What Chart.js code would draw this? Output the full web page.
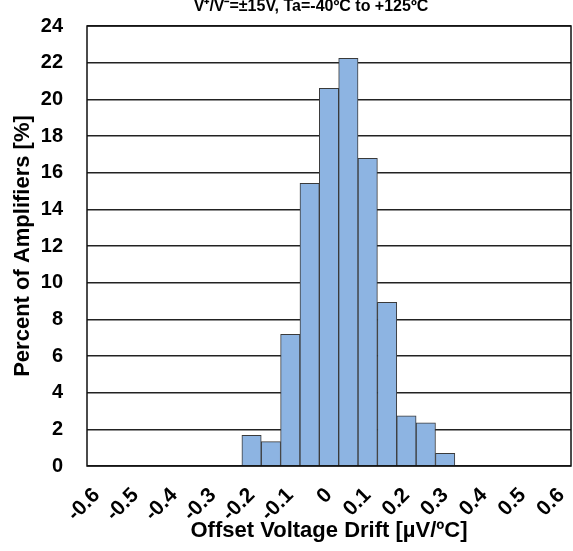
<!DOCTYPE html>
<html>
<head>
<meta charset="utf-8">
<script src="https://cdn.jsdelivr.net/npm/chart.js@4/dist/chart.umd.min.js"></script>
<style>
  html, body { margin: 0; padding: 0; background: #fff; }
  #wrap { width: 573px; height: 551px; position: relative; }
</style>
</head>
<body>
<div id="wrap"><canvas id="driftChart"></canvas></div>
<script>
const titleText = 'V\u207A/V\u207B=\u00B115V, Ta=-40\u00BAC to +125\u00BAC';

// bins of 0.05 uV/C, one category each
const categories = ['-0.6', '-0.55', '-0.5', '-0.45', '-0.4', '-0.35', '-0.3', '-0.25', '-0.2', '-0.15',
    '-0.1', '-0.05', '0', '0.05', '0.1', '0.15', '0.2', '0.25', '0.3', '0.35',
    '0.4', '0.45', '0.5', '0.55', '0.6'];
const tickLabels = ['-0.6', '-0.5', '-0.4', '-0.3', '-0.2', '-0.1', '0', '0.1', '0.2', '0.3', '0.4', '0.5', '0.6'];
const percent = [null, null, null, null, null, null, null, null, 1.67, 1.33,
    7.18, 15.42, 20.6, 22.24, 16.78, 8.93, 2.73, 2.36, 0.69, null,
    null, null, null, null, null];

const font = 'Liberation Sans, Arial, sans-serif';

const frame = {
    id: 'frame',
    afterDatasetsDraw(chart) {
        const { ctx, chartArea: a } = chart;
        ctx.save();
        ctx.strokeStyle = '#111';
        ctx.lineWidth = 1.5;
        ctx.strokeRect(a.left, a.top, a.right - a.left, a.bottom - a.top);
        ctx.restore();
    },
    afterDraw(chart) {
        const ctx = chart.ctx;
        ctx.save();
        ctx.font = 'bold 16px ' + font;
        ctx.fillStyle = '#000';
        ctx.textAlign = 'center';
        ctx.textBaseline = 'middle';
        ctx.fillText(titleText, 311, 7);
        ctx.restore();
    }
};

document.addEventListener('DOMContentLoaded', () => {
    const ctx = document.getElementById('driftChart').getContext('2d');
    new Chart(ctx, {
        type: 'bar',
        data: {
            labels: categories,
            datasets: [{
                data: percent,
                backgroundColor: '#8db4e2',
                borderColor: '#3a3a3a',
                borderWidth: 1,
                barPercentage: 1,
                categoryPercentage: 1
            }]
        },
        options: {
            responsive: true,
            maintainAspectRatio: false,
            animation: false,
            layout: { padding: { top: 26, right: 2, left: 0, bottom: 0 } },
            plugins: {
                legend: { display: false },
                tooltip: { enabled: false }
            },
            scales: {
                x: {
                    afterFit: (s) => { s.height = 85; s.paddingLeft = 0; s.paddingRight = 0; },
                    grid: { display: false, drawTicks: false },
                    border: { display: false },
                    ticks: {
                        autoSkip: false,
                        minRotation: 45,
                        maxRotation: 45,
                        padding: 17,
                        color: '#000',
                        font: { family: font, size: 21, weight: 'bold' },
                        callback: (v, i) => tickLabels.includes(categories[i]) ? categories[i] : ''
                    },
                    title: {
                        display: true,
                        text: 'Offset Voltage Drift [\u00B5V/\u00BAC]',
                        color: '#000',
                        font: { family: font, size: 22, weight: 'bold' },
                        padding: { top: 0, bottom: 7 }
                    }
                },
                y: {
                    min: 0,
                    max: 24,
                    afterFit: (s) => { s.width = 87; s.paddingTop = 0; s.paddingBottom = 0; },
                    grid: { color: '#222', lineWidth: 1.5, drawTicks: false },
                    border: { display: false },
                    ticks: {
                        stepSize: 2,
                        padding: 24,
                        color: '#000',
                        font: { family: font, size: 20, weight: 'bold' }
                    },
                    title: {
                        display: true,
                        text: 'Percent of Amplifiers [%]',
                        color: '#000',
                        font: { family: font, size: 22, weight: 'bold' },
                        padding: { top: 10, bottom: 0 }
                    }
                }
            }
        },
        plugins: [frame]
    });
});
</script>
</body>
</html>
